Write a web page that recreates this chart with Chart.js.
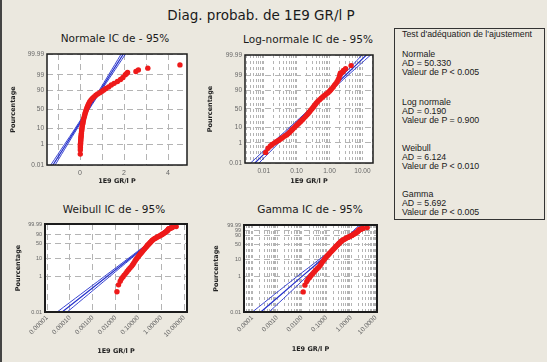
<!DOCTYPE html>
<html><head><meta charset="utf-8">
<script src="https://cdn.jsdelivr.net/npm/chart.js@4.4.1/dist/chart.umd.min.js"></script>
<style>
html,body{margin:0;padding:0;}
body{width:547px;height:362px;background:#ebe8df;position:relative;overflow:hidden;font-family:"DejaVu Sans",sans-serif;}
canvas{position:absolute;}
.t{position:absolute;white-space:nowrap;color:#1a1a1a;text-align:center;}
.ptitle{font-size:10.5px;line-height:14px;width:160px;}
#box{position:absolute;left:394px;top:28px;width:149px;height:190px;border:1px solid #333;}
.bl{position:absolute;left:7px;font-family:"Liberation Sans",sans-serif;font-size:8.8px;line-height:10px;color:#1a1a1a;white-space:nowrap;}
#edge{position:absolute;left:0;top:0;width:2px;height:362px;background:#444;}
</style></head>
<body>
<div id="edge"></div>
<div class="t" id="main" style="left:136px;width:250px;top:7px;font-size:13.5px;line-height:16px;">Diag. probab. de 1E9 GR/l P</div>
<div class="t ptitle" style="left:35px;top:31px;">Normale IC de - 95%</div>
<div class="t ptitle" style="left:228px;top:32px;">Log-normale IC de - 95%</div>
<div class="t ptitle" style="left:34px;top:202px;">Weibull IC de - 95%</div>
<div class="t ptitle" style="left:230px;top:202px;">Gamma IC de - 95%</div>
<canvas id="c1" width="200" height="146" style="left:0;top:44px;"></canvas>
<canvas id="c2" width="190" height="146" style="left:200px;top:44px;"></canvas>
<canvas id="c3" width="200" height="146" style="left:0;top:214px;"></canvas>
<canvas id="c4" width="190" height="146" style="left:200px;top:214px;"></canvas>
<div id="box">
  <div class="bl" style="top:0px;">Test d'adéquation de l'ajustement</div>
  <div class="bl" style="top:20px;">Normale</div>
  <div class="bl" style="top:29px;">AD = 50.330</div>
  <div class="bl" style="top:38px;">Valeur de P &lt; 0.005</div>
  <div class="bl" style="top:68px;">Log normale</div>
  <div class="bl" style="top:77px;">AD = 0.190</div>
  <div class="bl" style="top:86px;">Valeur de P = 0.900</div>
  <div class="bl" style="top:114px;">Weibull</div>
  <div class="bl" style="top:123px;">AD = 6.124</div>
  <div class="bl" style="top:132px;">Valeur de P &lt; 0.010</div>
  <div class="bl" style="top:160px;">Gamma</div>
  <div class="bl" style="top:169px;">AD = 5.692</div>
  <div class="bl" style="top:178px;">Valeur de P &lt; 0.005</div>
</div>
<script>
// ---- sample: cumulative percent and observed value (1E9 GR/l P) ----
const percents = [0.14,0.34,0.54,0.74,0.94,1.2,1.5,1.9,2.4,3.0,3.7,4.5,5.5,7,8.5,10,12,14,16,18,20,23,26,30,34,38,42,46,50,54,58,62,66,70,74,77,80,83,85,87,89,90.5,92,93.5,95,96,97,97.8,98.4,99.0,99.2,99.35,99.46,99.6,99.72,99.86];
const values = [0.0115,0.0135,0.016,0.018,0.021,0.024,0.028,0.032,0.037,0.043,0.050,0.056,0.062,0.070,0.077,0.085,0.095,0.105,0.115,0.125,0.135,0.15,0.165,0.185,0.205,0.225,0.245,0.265,0.29,0.315,0.34,0.37,0.40,0.44,0.50,0.56,0.63,0.72,0.80,0.90,1.00,1.08,1.18,1.30,1.42,1.55,1.70,1.84,1.95,2.06,2.12,2.16,2.54,2.65,3.08,4.54];

// ---- fitted lines and 95% confidence bounds (x value at each percent) ----
const ciPercents = [0.01,1,10,50,90,99,99.99];
const normalFit = [-1.23,-0.63,-0.18,0.37,0.92,1.37,1.97];
const normalLow = [-1.33,-0.70,-0.23,0.33,0.87,1.30,1.87];
const normalHigh = [-1.13,-0.56,-0.13,0.41,0.97,1.44,2.07];
const lognormFit = [0.0054,0.023,0.069,0.266,1.02,3.06,13.2];
const lognormLow = [0.0040,0.0185,0.060,0.246,0.90,2.55,9.8];
const lognormHigh = [0.0072,0.0289,0.080,0.287,1.15,3.67,17.8];
const weibullFit = [4.57e-5,0.00421,0.0422,0.267,0.869,1.71,3.39];
const weibullLow = [2.76e-5,0.0032,0.0359,0.2435,0.793,1.52,2.88];
const weibullHigh = [7.58e-5,0.00555,0.0496,0.2926,0.952,1.92,3.98];
const gammaFit = [2.19e-4,0.00977,0.0679,0.321,0.863,1.53,2.72];
const gammaLow = [1.0e-4,0.00617,0.0539,0.286,0.769,1.30,2.16];
const gammaHigh = [4.79e-4,0.0155,0.0855,0.360,0.968,1.80,3.42];

// ---- tick labels ----
const normalYLabels = ['99.99','99','90','50','10','1','0.01'];
const lognormYLabels = ['99.99','99','90','50','10','1','0.01'];
const weibullYLabels = ['99.99','90','50','10','1','0.01'];
const gammaYLabels = ['99.99','99','90','50','10','1','0.01'];
const normalXValues = [-1,0,1,2,3,4];
const normalXLabels = ['','0','','2','','4'];
const lognormXLabels = ['0.01','0.10','1.00','10.00'];
const weibullXLabels = ['0.00001','0.00010','0.00100','0.01000','0.10000','1.00000','10.00000'];
const gammaXLabels = ['0.0001','0.0010','0.0100','0.1000','1.0000','10.0000'];

// ---- probability scale transforms ----
function probit(p){
  const a=[-3.969683028665376e+01,2.209460984245205e+02,-2.759285104469687e+02,1.383577518672690e+02,-3.066479806614716e+01,2.506628277459239e+00];
  const b=[-5.447609879822406e+01,1.615858368580409e+02,-1.556989798598866e+02,6.680131188771972e+01,-1.328068155288572e+01];
  const c=[-7.784894002430293e-03,-3.223964580411365e-01,-2.400758277161838e+00,-2.549671010177863e+00,4.374664141464968e+00,2.938163982698783e+00];
  const d=[7.784695709041462e-03,3.224671290700398e-01,2.445134137142996e+00,3.754408661907416e+00];
  const pl=0.02425, ph=1-pl; let q,r;
  if(p<pl){q=Math.sqrt(-2*Math.log(p));return (((((c[0]*q+c[1])*q+c[2])*q+c[3])*q+c[4])*q+c[5])/((((d[0]*q+d[1])*q+d[2])*q+d[3])*q+1);}
  if(p<=ph){q=p-0.5;r=q*q;return (((((a[0]*r+a[1])*r+a[2])*r+a[3])*r+a[4])*r+a[5])*q/(((((b[0]*r+b[1])*r+b[2])*r+b[3])*r+b[4])*r+1);}
  q=Math.sqrt(-2*Math.log(1-p));return -(((((c[0]*q+c[1])*q+c[2])*q+c[3])*q+c[4])*q+c[5])/((((d[0]*q+d[1])*q+d[2])*q+d[3])*q+1);
}
const zNorm = pct => probit(pct/100);
const zWeib = pct => Math.log(-Math.log(1-pct/100));

function logTicks(labels, min, max, withMinor){
  const majors = labels.map(s=>parseFloat(s));
  const out=[];
  const k0=Math.floor(Math.log10(min)), k1=Math.ceil(Math.log10(max));
  for(let k=k0;k<=k1;k++){
    for(let m=1;m<=9;m++){
      if(!withMinor && m>1) continue;
      const v=m*Math.pow(10,k);
      if(v<min||v>max) continue;
      const j=majors.findIndex(x=>Math.abs(x-v)/v<1e-6);
      out.push({value:v,label:j>=0?labels[j]:''});
    }
  }
  return out;
}

const RED='#ee1a1a', BLUE='#2430cc';

function panel(o){
  const yTicks = o.yLabels.map(s=>({value:o.T(parseFloat(s)),label:s}));
  const pts = values.map((v,i)=>({x:v,y:o.T(percents[i])}));
  const line = arr => arr.map((v,i)=>({x:v,y:o.T(ciPercents[i])}));
  const frame = {
    id:'frame',
    beforeDraw(c){const a=c.chartArea,x=c.ctx;x.save();x.fillStyle='#ffffff';x.fillRect(a.left,a.top,a.right-a.left,a.bottom-a.top);x.restore();},
    afterDraw(c){const a=c.chartArea,x=c.ctx;x.save();x.strokeStyle='#1c1c1c';x.lineWidth=o.frameW;x.strokeRect(a.left,a.top,a.right-a.left,a.bottom-a.top);x.restore();}
  };
  const lineDs = (arr,w) => ({data:line(arr),showLine:true,pointRadius:0,borderColor:BLUE,borderWidth:w,fill:false,tension:0.4});
  new Chart(document.getElementById(o.id),{
    type:'scatter',
    data:{datasets:[
      {data:pts,pointRadius:2.7,pointBackgroundColor:RED,pointBorderWidth:0,showLine:false},
      lineDs(o.fit,1.2), lineDs(o.lo,0.9), lineDs(o.hi,0.9)
    ]},
    options:{
      animation:false,responsive:false,devicePixelRatio:1,
      layout:{padding:{top:o.padTop,right:o.padRight,left:0,bottom:0}},
      plugins:{legend:{display:false},tooltip:{enabled:false},title:{display:false}},
      scales:{
        x:{type:o.xType,min:o.xMin,max:o.xMax,bounds:'data',
          afterBuildTicks:s=>{s.ticks=o.xTicks.map(t=>({value:t.value}));},
          afterFit:s=>{s.height=o.xH;},
          ticks:{autoSkip:false,maxRotation:o.rot,minRotation:o.rot,padding:o.xPad,color:'#666',
            font:{family:'Liberation Sans',size:o.xFont},callback:(v,i)=>o.xTicks[i]?o.xTicks[i].label:''},
          grid:{color:'#b4b4b4',lineWidth:1,drawTicks:false},
          border:{display:false,dash:o.xDash},
          title:{display:true,text:'1E9 GR/l P',color:'#222',font:{family:'DejaVu Sans',size:6.5,weight:'bold'},padding:{top:0,bottom:o.xTitlePad}}
        },
        y:{type:'linear',min:o.T(0.01),max:o.T(99.99),bounds:'data',
          afterBuildTicks:s=>{s.ticks=yTicks.map(t=>({value:t.value}));},
          afterFit:s=>{s.width=o.yW;},
          ticks:{autoSkip:false,padding:3,color:'#666',font:{family:'Liberation Sans',size:o.yFont},callback:(v,i)=>yTicks[i]?yTicks[i].label:''},
          grid:{color:'#b4b4b4',lineWidth:1,drawTicks:false},
          border:{display:false,dash:[6,4]},
          title:{display:true,text:'Pourcentage',color:'#222',font:{family:'DejaVu Sans',size:6.5,weight:'bold'},padding:{top:o.yTitlePad,bottom:0}}
        }
      }
    },
    plugins:[frame]
  });
}

panel({id:'c1',T:zNorm,yLabels:normalYLabels,xType:'linear',xMin:-1.5,xMax:4.86,
  xTicks:normalXValues.map((v,i)=>({value:v,label:normalXLabels[i]})),
  fit:normalFit,lo:normalLow,hi:normalHigh,padTop:10,padRight:13,yW:47,xH:25,
  rot:0,xPad:4,xFont:7,yFont:6.5,xDash:[6,4],xTitlePad:5,yTitlePad:9,frameW:1.5});

panel({id:'c2',T:zNorm,yLabels:lognormYLabels,xType:'logarithmic',xMin:0.0027,xMax:21,
  xTicks:logTicks(lognormXLabels,0.0027,21,true),
  fit:lognormFit,lo:lognormLow,hi:lognormHigh,padTop:11,padRight:17,yW:45,xH:27,
  rot:0,xPad:4,xFont:6.5,yFont:6.5,xDash:[3,3],xTitlePad:4.4,yTitlePad:6,frameW:1.5});

panel({id:'c3',T:zWeib,yLabels:weibullYLabels,xType:'logarithmic',xMin:8.1e-6,xMax:13.5,
  xTicks:logTicks(weibullXLabels,8.1e-6,13.5,false),
  fit:weibullFit,lo:weibullLow,hi:weibullHigh,padTop:10,padRight:13,yW:45,xH:48,
  rot:45,xPad:2,xFont:6.5,yFont:5.5,xDash:[6,4],xTitlePad:4.4,yTitlePad:14,frameW:2});

panel({id:'c4',T:zWeib,yLabels:gammaYLabels,xType:'logarithmic',xMin:4.57e-5,xMax:11.3,
  xTicks:logTicks(gammaXLabels,4.57e-5,11.3,true),
  fit:gammaFit,lo:gammaLow,hi:gammaHigh,padTop:11,padRight:13,yW:44,xH:48,
  rot:45,xPad:2,xFont:6.5,yFont:5.5,xDash:[3,3],xTitlePad:6.8,yTitlePad:12.8,frameW:2});
</script>
</body></html>
